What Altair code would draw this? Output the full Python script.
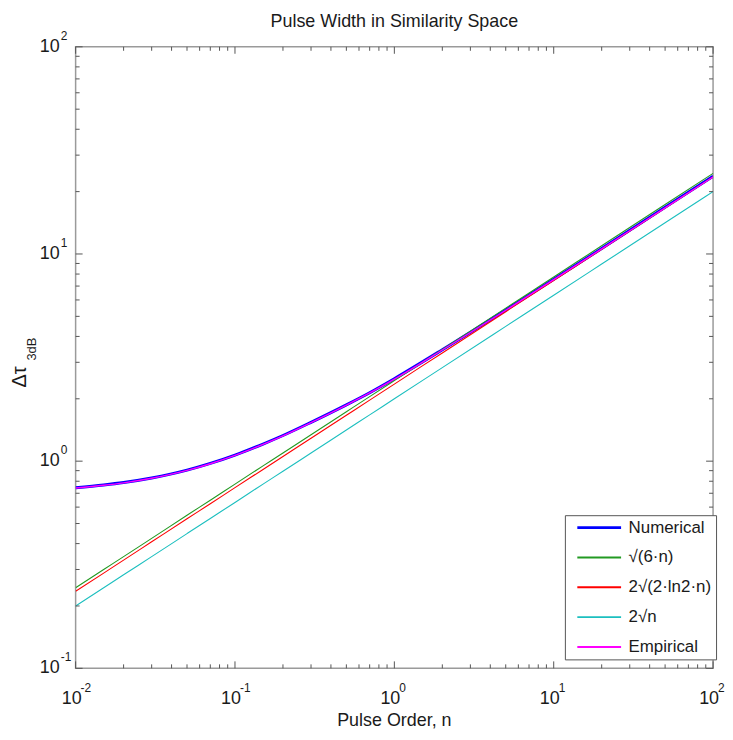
import altair as alt
import pandas as pd

# ---------------- data ----------------
title_text = "Pulse Width in Similarity Space"
x_title = "Pulse Order, n"
y_title_main = "Δτ"
y_title_sub = "3dB"

series_names = ["Numerical", "√(6·n)", "2√(2·ln2·n)", "2√n", "Empirical"]
series_colors = ["#0000ff", "#229a22", "#ff0000", "#1cbfbf", "#ff00ff"]
series_widths = [3.0, 1.1, 1.1, 1.1, 1.4]

n_values = [0.01, 0.015, 0.02, 0.03, 0.05, 0.07, 0.1, 0.15, 0.2, 0.3, 0.5, 0.7,
            1, 2, 5, 10, 20, 50, 100]
numerical = [0.745, 0.768, 0.789, 0.83, 0.905, 0.975, 1.07, 1.21, 1.33, 1.54, 1.87, 2.14,
             2.50, 3.45, 5.37, 7.55, 10.63, 16.8, 23.7]
sqrt_6n = [0.245, 0.300, 0.346, 0.424, 0.548, 0.648, 0.775, 0.949, 1.095, 1.342, 1.732, 2.049,
           2.449, 3.464, 5.477, 7.746, 10.95, 17.32, 24.49]
two_sqrt_2ln2n = [0.2355, 0.288, 0.333, 0.408, 0.527, 0.623, 0.745, 0.912, 1.053, 1.290, 1.665, 1.970,
                  2.355, 3.330, 5.266, 7.447, 10.53, 16.65, 23.55]
two_sqrt_n = [0.2, 0.245, 0.283, 0.346, 0.447, 0.529, 0.632, 0.775, 0.894, 1.095, 1.414, 1.673,
              2.0, 2.828, 4.472, 6.325, 8.944, 14.14, 20.0]
empirical = [0.742, 0.765, 0.786, 0.827, 0.902, 0.972, 1.066, 1.205, 1.325, 1.535, 1.865, 2.135,
             2.49, 3.44, 5.35, 7.52, 10.58, 16.7, 23.55]

x_decades = [0.01, 0.1, 1, 10, 100]
x_exponents = ["-2", "-1", "0", "1", "2"]
y_decades = [0.1, 1, 10, 100]
y_exponents = ["-1", "0", "1", "2"]
minor_multipliers = [2, 3, 4, 5, 6, 7, 8, 9]

# ---------------- tables ----------------
all_series = [numerical, sqrt_6n, two_sqrt_2ln2n, two_sqrt_n, empirical]
rows = []
for name, vals in zip(series_names, all_series):
    for n, v in zip(n_values, vals):
        rows.append({"series": name, "n": n, "w": v})
df = pd.DataFrame(rows)

x_minor = [m * d for d in x_decades[:-1] for m in minor_multipliers]
y_minor = [m * d for d in y_decades[:-1] for m in minor_multipliers]
df_xmaj = pd.DataFrame({"v": x_decades, "base": ["10"] * len(x_decades), "e": x_exponents})
df_ymaj = pd.DataFrame({"v": y_decades, "base": ["10"] * len(y_decades), "e": y_exponents})
df_xmin = pd.DataFrame({"v": x_minor})
df_ymin = pd.DataFrame({"v": y_minor})

# ---------------- layout ----------------
W, H = 641, 625
FONT = "Liberation Sans"
TICK_COLOR = "#555555"
TXT = "#1a1a1a"

xscale = alt.Scale(type="log", domain=[0.01, 100], nice=False)
yscale = alt.Scale(type="log", domain=[0.1, 100], nice=False)

color_enc = alt.Color(
    "series:N",
    scale=alt.Scale(domain=series_names, range=series_colors),
    legend=alt.Legend(
        title=None,
        symbolStrokeWidth=alt.ExprRef("datum.value === 'Numerical' ? 3 : 2"),
    ),
)

line_layers = []
for name, sw in zip(series_names, series_widths):
    line_layers.append(
        alt.Chart(df)
        .transform_filter(alt.datum.series == name)
        .mark_line(clip=True, interpolate="monotone", strokeWidth=sw)
        .encode(
            x=alt.X("n:Q", scale=xscale, axis=None),
            y=alt.Y("w:Q", scale=yscale, axis=None),
            color=color_enc,
        )
    )

def xrule(data, y0, y1):
    return alt.Chart(data).mark_rule(color=TICK_COLOR, strokeWidth=1).encode(
        x=alt.X("v:Q", scale=xscale, axis=None), y=alt.value(y0), y2=alt.value(y1))

def yrule(data, x0, x1):
    return alt.Chart(data).mark_rule(color=TICK_COLOR, strokeWidth=1).encode(
        y=alt.Y("v:Q", scale=yscale, axis=None), x=alt.value(x0), x2=alt.value(x1))

tick_layers = [
    xrule(df_xmaj, H, H - 7), xrule(df_xmin, H, H - 4),
    xrule(df_xmaj, 0, 7), xrule(df_xmin, 0, 4),
    yrule(df_ymaj, 0, 7), yrule(df_ymin, 0, 4),
    yrule(df_ymaj, W, W - 7), yrule(df_ymin, W, W - 4),
]

x_lab = alt.Chart(df_xmaj).mark_text(font=FONT, fontSize=18, align="center", baseline="middle", dx=-4, color=TXT).encode(
    x=alt.X("v:Q", scale=xscale, axis=None), y=alt.value(H + 31), text="base:N")
x_exp = alt.Chart(df_xmaj).mark_text(font=FONT, fontSize=12, align="left", baseline="middle", dx=5, color=TXT).encode(
    x=alt.X("v:Q", scale=xscale, axis=None), y=alt.value(H + 20), text="e:N")
y_lab = alt.Chart(df_ymaj).mark_text(font=FONT, fontSize=18, align="right", baseline="middle", color=TXT).encode(
    y=alt.Y("v:Q", scale=yscale, axis=None), x=alt.value(-16), text="base:N")
y_exp = alt.Chart(df_ymaj).mark_text(font=FONT, fontSize=12, align="left", baseline="middle", dy=-11, color=TXT).encode(
    y=alt.Y("v:Q", scale=yscale, axis=None), x=alt.value(-15), text="e:N")

def label_layer(text, size, xv, yv, angle=0):
    return alt.Chart(pd.DataFrame({"t": [text]})).mark_text(
        font=FONT, fontSize=size, align="center", baseline="middle", angle=angle, color=TXT).encode(
        x=alt.value(xv), y=alt.value(yv), text="t:N")

title_layer = label_layer(title_text, 18, W / 2, -25)
x_title_layer = label_layer(x_title, 18, W / 2, H + 53)
y_title_main_layer = label_layer(y_title_main, 20, -56, 332, angle=270)
y_title_sub_layer = label_layer(y_title_sub, 13, -44, 304, angle=270)

chart = (
    alt.layer(*line_layers, *tick_layers, x_lab, x_exp, y_lab, y_exp,
              title_layer, x_title_layer, y_title_main_layer, y_title_sub_layer)
    .properties(
        width=W, height=H,
        autosize=alt.AutoSizeParams(type="none"),
        padding={"left": 68, "top": 37, "right": 12, "bottom": 63},
    )
    .configure_view(stroke="#9a9a9a", strokeWidth=1.5)
    .configure_legend(
        orient="none", legendX=492, legendY=471,
        padding=4, strokeColor="#555555", fillColor="white",
        symbolType="M-3,0H1", symbolSize=484, symbolOffset=33,
        labelOffset=10, labelFont=FONT, labelFontSize=17, labelColor=TXT,
        rowPadding=12, labelLimit=200,
    )
)

chart.save("out.html", embed_options={"renderer": "svg", "actions": False})
